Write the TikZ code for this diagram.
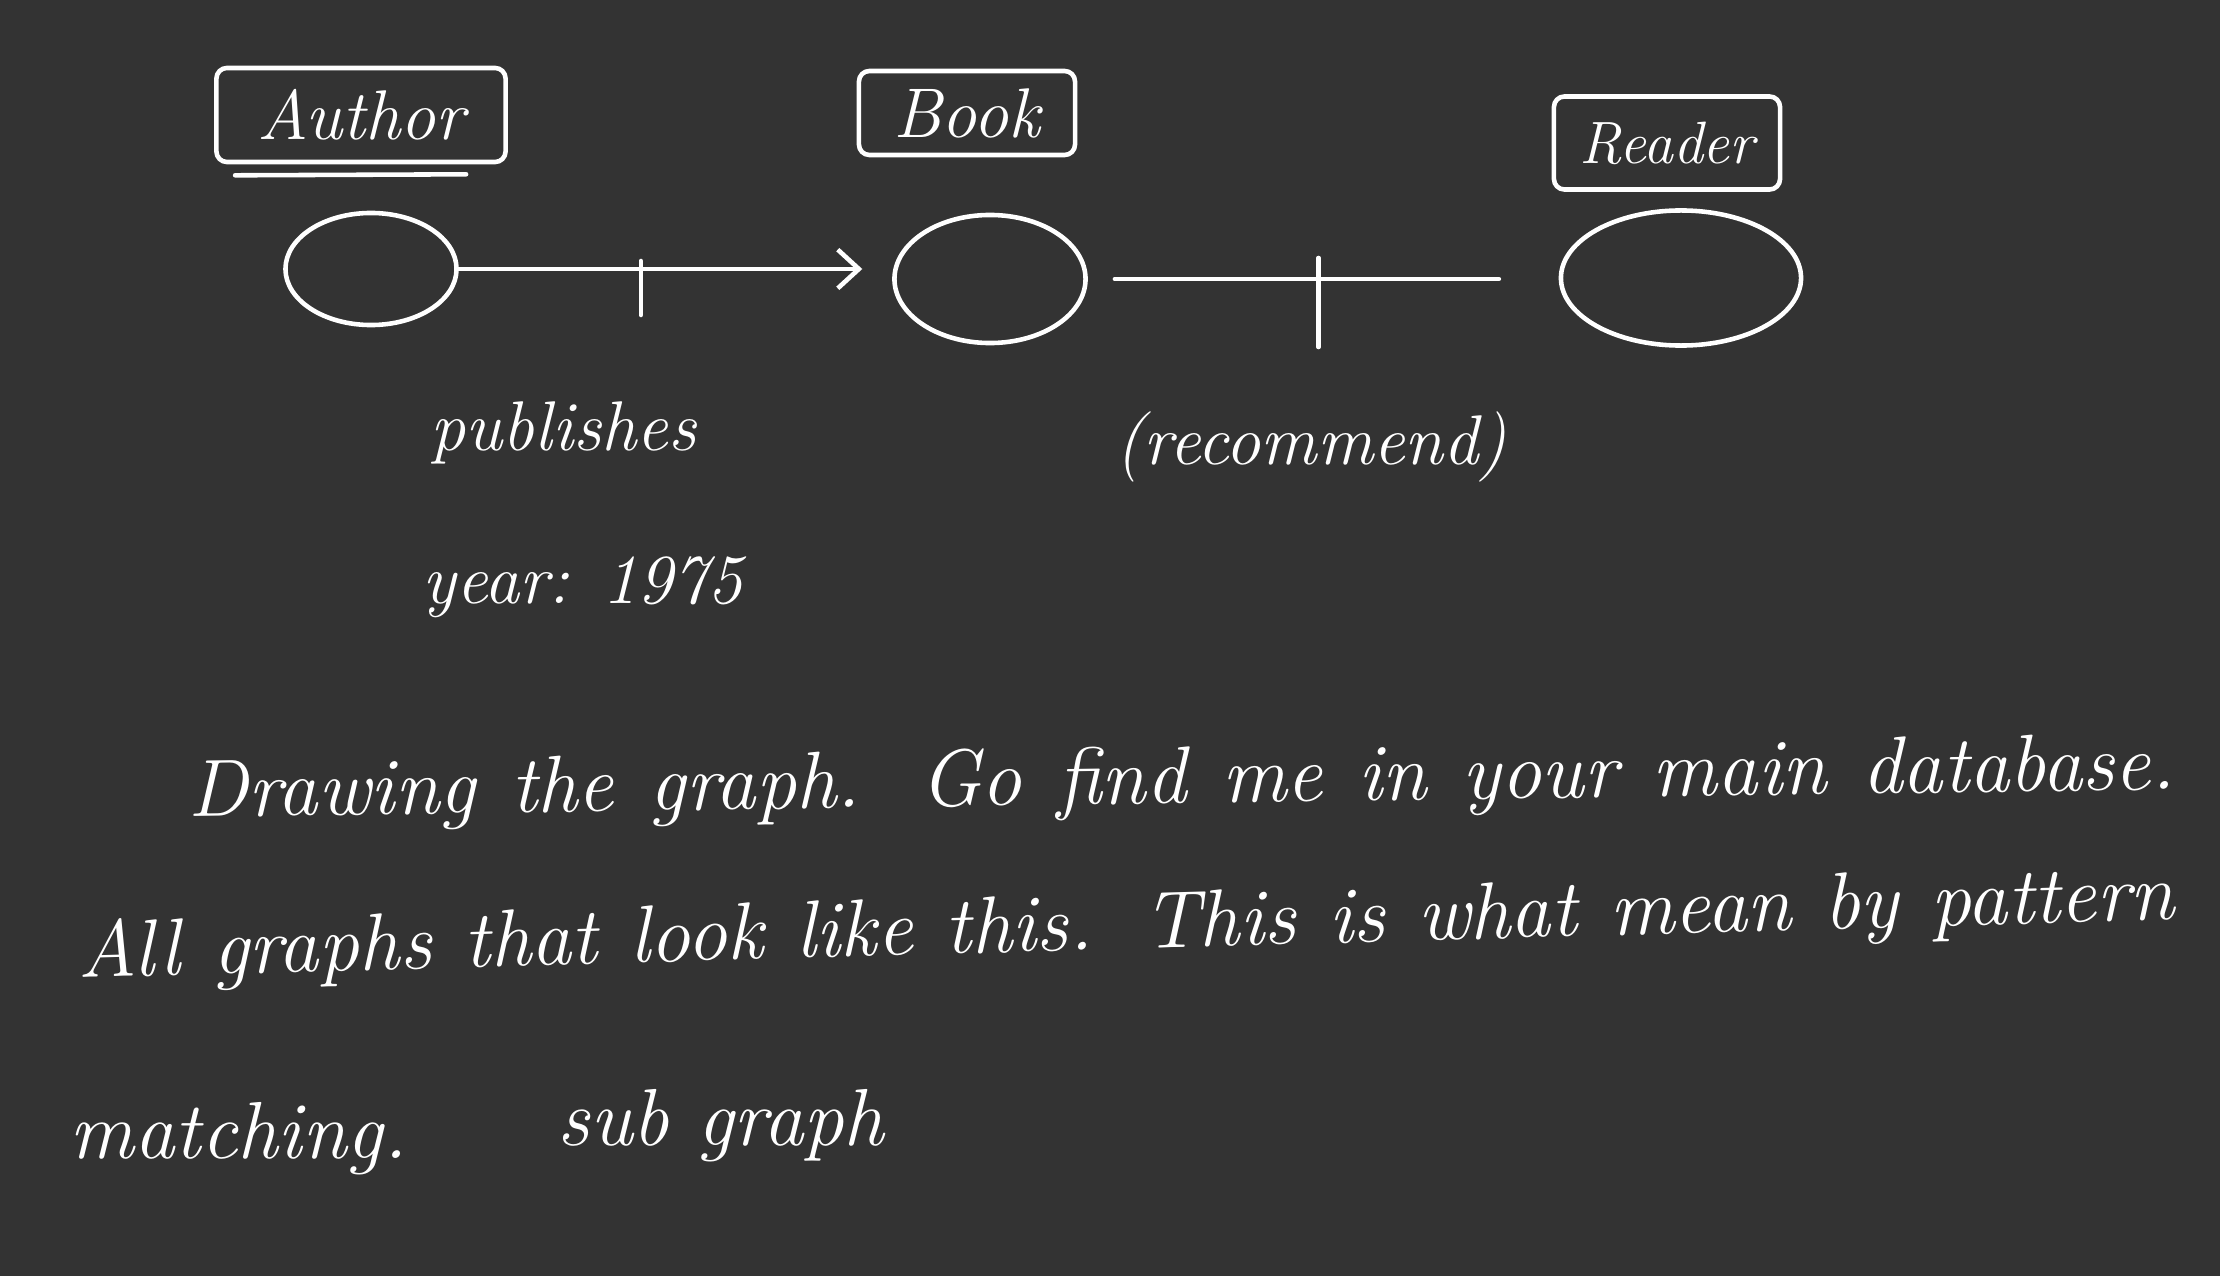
\documentclass[tikz,border=0pt]{standalone}
\usepackage{tikz}
\usetikzlibrary{arrows.meta}
\usetikzlibrary{shapes.geometric}
\definecolor{board}{RGB}{51,51,51}

\begin{document}
\begin{tikzpicture}[line cap=round,line join=round,>={Straight Barb[length=6pt,width=11pt]},x=0.01cm,y=-0.01cm,
  chalk/.style={white,line width=1.3pt},
  entity/.style={chalk,draw,ellipse,inner sep=0pt},
  tagbox/.style={chalk,draw,rounded corners=3pt,inner sep=0pt,text=white,font=\itshape\fontsize{20}{24}\selectfont},
  scrawl/.style={text=white,inner sep=0pt,anchor=base west,font=\itshape\fontsize{20}{24}\selectfont},
  prose/.style={text=white,inner sep=0pt,anchor=base west,font=\itshape\fontsize{23}{27}\selectfont}]
\fill[board] (0,0) rectangle (2220,1276);
% labels on top
\node[tagbox,minimum width=2.89cm,minimum height=0.94cm] (author) at (361,115) {Author};
\node[tagbox,minimum width=2.16cm,minimum height=0.84cm] (book) at (967,113) {Book};
\node[tagbox,minimum width=2.26cm,minimum height=0.93cm,font=\itshape\fontsize{17}{20}\selectfont] (reader) at (1667,143) {Reader};
\draw[chalk] (author.south west) ++(21,11) -- ++(231,-1);
% the three vertices
\node[entity,minimum width=1.71cm,minimum height=1.12cm] (authorE) at (371,269) {};
\node[entity,minimum width=1.91cm,minimum height=1.28cm] (bookE) at (990,279) {};
\node[entity,minimum width=2.40cm,minimum height=1.35cm] (readerE) at (1681,278) {};
% edges
\coordinate (pubend) at (authorE.east -| bookE.west);
\draw[chalk,->,shorten >=8.5pt] (authorE.east) -- (pubend);
\path (authorE.east) -- coordinate[pos=0.42] (pubtick) (pubend);
\draw[chalk] (pubtick) ++(0,-8) -- ++(0,54);
\coordinate (recstart) at (bookE.east);
\coordinate (recend) at (recstart -| readerE.west);
\draw[chalk,shorten <=7.7pt,shorten >=17pt] (recstart) -- (recend);
\path (recstart) -- coordinate[pos=0.49] (rectick) (recend);
\draw[chalk] (rectick) ++(0,-21) -- ++(0,89);
\node[scrawl] (pub) at (430,450) {publishes};
\node[scrawl] (year) at (422,603) {year: 1975};
\node[scrawl] (rec) at (1115,465) {(recommend)};
% notes
\node[prose,rotate=0.8] (lineA) at (188,817) {\makebox[19.86cm][s]{Drawing the graph. Go find me in your main database.}};
\node[prose,rotate=1.6] (lineB) at (78,978) {\makebox[20.96cm][s]{All graphs that look like this. This is what mean by pattern}};
\node[prose] (lineC) at (69,1158) {matching.};
\node[prose] (lineD) at (557,1145) {sub graph};
\end{tikzpicture}
\end{document}
